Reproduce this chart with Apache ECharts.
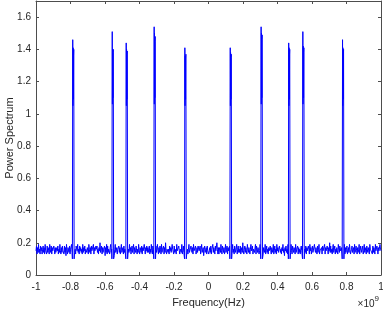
<!DOCTYPE html>
<html>
<head>
<meta charset="utf-8">
<script src="https://cdn.jsdelivr.net/npm/echarts@6/dist/echarts.min.js"></script>
<style>
html, body { margin: 0; padding: 0; background: #fff; }
#chart { width: 383px; height: 310px; }
</style>
</head>
<body>
<div id="chart"></div>
<script>
// x axis in units of 1e9 Hz
const xTicks = { min: -1, max: 1, step: 0.2 };
const yTicks = { min: 0, max: 1.7, step: 0.2 };

// noise floor, evenly spaced from -1 to 1
const noiseFloor = [
    0.15,0.18,0.13,0.17,0.14,0.19,0.14,0.16,0.13,0.18,0.15,0.17,0.13,0.16,0.18,0.14,0.17,0.13,0.19,0.15,
    0.16,0.13,0.18,0.14,0.17,0.15,0.13,0.19,0.16,0.14,0.18,0.13,0.17,0.15,0.14,0.18,0.16,0.13,0.17,0.14,
    0.14,0.17,0.15,0.18,0.13,0.16,0.14,0.19,0.15,0.13,0.17,0.14,0.18,0.15,0.16,0.13,0.18,0.14,0.17,0.12,
    0.19,0.15,0.13,0.17,0.16,0.14,0.18,0.13,0.16,0.15,0.19,0.14,0.13,0.17,0.15,0.18,0.14,0.16,0.13,0.18,
    0.17,0.15,0.19,0.14,0.16,0.13,0.18,0.15,0.17,0.14,0.16,0.13,0.19,0.14,0.17,0.15,0.18,0.13,0.16,0.15,
    0.14,0.17,0.15,0.13,0.19,0.16,0.14,0.17,0.13,0.18,0.15,0.14,0.16,0.19,0.13,0.17,0.15,0.14,0.18,0.16,
    0.18,0.14,0.16,0.13,0.17,0.15,0.20,0.14,0.15,0.18,0.13,0.17,0.14,0.16,0.15,0.18,0.12,0.17,0.14,0.19,
    0.13,0.18,0.14,0.16,0.15,0.13,0.17,0.19,0.14,0.16,0.13,0.18,0.15,0.17,0.12,0.16,0.19,0.14,0.15,0.17,
    0.13,0.16,0.15,0.18,0.14,0.17,0.13,0.16,0.19,0.14,0.15,0.17,0.13,0.18,0.14,0.16,0.15,0.17,0.13,0.18,
    0.18,0.13,0.16,0.14,0.19,0.15,0.17,0.13,0.16,0.18,0.14,0.15,0.19,0.13,0.17,0.16,0.14,0.18,0.15,0.13,
    0.16,0.14,0.19,0.15,0.13,0.17,0.16,0.14,0.18,0.13,0.17,0.15,0.14,0.19,0.16,0.13,0.17,0.15,0.18,0.14,
    0.17,0.14,0.15,0.18,0.13,0.16,0.14,0.19,0.15,0.13,0.18,0.16,0.14,0.17,0.13,0.15,0.18,0.14,0.16,0.19,
    0.15,0.13,0.17,0.14,0.18,0.16,0.13,0.19,0.14,0.16,0.15,0.18,0.13,0.17,0.14,0.20,0.15,0.13,0.16,0.17,
    0.14,0.16,0.13,0.18,0.15,0.17,0.14,0.13,0.19,0.16,0.15,0.13,0.18,0.14,0.16,0.17,0.13,0.19,0.15,0.14,
    0.14,0.18,0.15,0.13,0.16,0.17,0.14,0.19,0.13,0.15,0.18,0.14,0.16,0.13,0.17,0.15,0.19,0.14,0.16,0.13,
    0.16,0.19,0.14,0.15,0.13,0.18,0.16,0.14,0.17,0.13,0.19,0.15,0.14,0.16,0.18,0.13,0.15,0.17,0.14,0.18,
    0.17,0.15,0.14,0.18,0.13,0.16,0.19,0.14,0.15,0.17,0.12,0.16,0.18,0.14,0.15,0.17,0.13,0.18,0.15,0.16,
    0.13,0.15,0.17,0.14,0.18,0.13,0.16,0.15,0.19,0.14,0.17,0.16,0.13,0.18,0.15,0.14,0.20,0.16,0.13,0.17,
    0.13,0.17,0.16,0.14,0.19,0.15,0.13,0.18,0.16,0.14,0.17,0.13,0.15,0.19,0.14,0.16,0.18,0.13,0.17,0.15,
    0.15,0.18,0.14,0.16,0.13,0.17,0.15,0.19,0.14,0.16,0.13,0.18,0.17,0.14,0.15,0.19,0.13,0.16,0.18,0.14,
    0.16,0.14,0.18,0.13,0.15,0.17,0.14,0.20,0.15,0.13,0.16,0.18,0.14,0.17,0.15,0.13,0.19,0.16,0.14,0.17,
    0.17,0.13,0.16,0.19,0.15,0.14,0.18,0.13,0.16,0.17,0.14,0.15,0.19,0.13,0.18,0.16,0.14,0.17,0.15,0.13,
    0.15,0.19,0.13,0.16,0.14,0.18,0.15,0.13,0.17,0.16,0.14,0.19,0.13,0.15,0.18,0.14,0.16,0.13,0.17,0.15,
    0.14,0.18,0.15,0.13,0.17,0.16,0.14,0.19,0.13,0.15,0.18,0.14,0.16,0.13,0.19,0.15,0.17,0.14,0.16,0.18,
    0.18,0.14,0.16,0.13,0.17,0.15,0.19,0.14,0.16,0.12,0.17,0.15,0.18,0.14,0.16,0.13,0.19,0.15,0.14,0.17,
    0.16,0.14,0.19,0.15,0.13,0.18,0.16,0.14,0.17,0.15,0.13,0.19,0.14,0.16,0.15,0.18,0.13,0.17,0.14,0.16,
    0.13,0.16,0.18,0.15,0.14,0.17,0.13,0.19,0.15,0.16,0.14,0.18,0.13,0.17,0.15,0.14,0.18,0.16,0.13,0.19,
    0.15,0.17,0.13,0.16,0.18,0.14,0.15,0.13,0.19,0.16,0.14,0.17,0.15,0.13,0.18,0.14,0.16,0.19,0.13,0.15,
    0.16,0.14,0.17,0.13,0.18,0.15,0.16,0.14,0.19,0.13,0.17,0.15,0.14,0.18,0.16,0.13,0.17,0.15,0.20,0.14,
    0.18,0.14,0.16,0.13,0.17,0.19,0.14,0.15,0.18,0.13,0.16,0.14,0.17,0.15,0.13,0.19,0.16,0.14,0.18,0.15,
    0.15,0.17,0.13,0.18,0.14,0.16,0.15,0.19,0.13,0.17,0.14,0.16,0.18,0.13,0.15,0.17,0.14,0.19,0.16,0.13,
    0.13,0.16,0.18,0.14,0.15,0.17,0.13,0.19,0.14,0.16,0.18,0.15,0.13,0.17,0.14,0.16,0.19,0.13,0.15,0.18,
    0.17,0.14,0.16,0.18,0.13,0.15,0.19,0.14,0.17,0.15,0.13,0.18,0.16,0.14,0.17,0.15,0.13,0.19,0.16,0.15,
    0.16,0.15,0.13,0.18,0.14,0.17,0.16,0.13,0.19,0.15,0.14,0.18,0.16,0.13,0.17,0.15,0.14,0.19,0.16,0.15
];

// narrow peaks: centre frequencies and the levels across each pulse
const peakCenters = [-0.784, -0.555, -0.474, -0.312, -0.134, 0.129, 0.308, 0.468, 0.550, 0.780];
const peakOffsets = [-0.005, -0.003, -0.002, -0.001, 0.001, 0.002, 0.003, 0.005];
const peakLevels = [
    [0.10, 1.46, 1.05, 1.41, 1.09, 1.36, 1.40, 0.10],
    [0.10, 1.51, 1.06, 1.40, 1.10, 1.38, 1.40, 0.10],
    [0.10, 1.44, 1.05, 1.40, 1.09, 1.37, 1.39, 0.10],
    [0.10, 1.54, 1.06, 1.50, 1.10, 1.45, 1.48, 0.10],
    [0.10, 1.41, 1.05, 1.36, 1.09, 1.34, 1.37, 0.10],
    [0.10, 1.41, 1.05, 1.38, 1.09, 1.35, 1.37, 0.10],
    [0.10, 1.54, 1.06, 1.50, 1.10, 1.46, 1.49, 0.10],
    [0.10, 1.44, 1.05, 1.41, 1.09, 1.37, 1.40, 0.10],
    [0.10, 1.51, 1.06, 1.42, 1.10, 1.38, 1.41, 0.10],
    [0.10, 1.46, 1.05, 1.41, 1.09, 1.37, 1.40, 0.10]
];

// build the spectrum points
const spectrum = [];
const step = (xTicks.max - xTicks.min) / (noiseFloor.length - 1);
noiseFloor.forEach(function(v, i) {
    const x = xTicks.min + i * step;
    if (peakCenters.some(c => Math.abs(x - c) < 0.006)) return;
    spectrum.push([x, v]);
});
peakCenters.forEach(function(c, k) {
    peakOffsets.forEach(function(o, j) {
        spectrum.push([c + o, peakLevels[k][j]]);
    });
});
spectrum.sort((a, b) => a[0] - b[0]);

const axisColor = '#4d4d4d';
const textColor = '#262626';
const fontFamily = '"Liberation Sans", Arial, sans-serif';

const chart = echarts.init(document.getElementById('chart'));

const boxAxis = {
    type: 'value',
    axisLine: { show: true, onZero: false, lineStyle: { color: axisColor, width: 1 } },
    axisTick: { show: true, inside: true, length: 3, lineStyle: { color: axisColor } },
    splitLine: { show: false }
};

chart.setOption({
    animation: false,
    grid: { left: 36, right: 2, top: 1, bottom: 35, containLabel: false, outerBoundsMode: 'none' },
    xAxis: [
        Object.assign({}, boxAxis, {
            position: 'bottom',
            min: xTicks.min, max: xTicks.max, interval: xTicks.step,
            name: 'Frequency(Hz)',
            nameLocation: 'middle',
            nameGap: 22,
            nameMoveOverlap: false,
            nameTextStyle: { color: textColor, fontSize: 11, fontFamily: fontFamily },
            axisLabel: { color: textColor, fontSize: 10, fontFamily: fontFamily, margin: 7 }
        }),
        Object.assign({}, boxAxis, {
            position: 'top',
            min: xTicks.min, max: xTicks.max, interval: xTicks.step,
            axisLabel: { show: false }
        })
    ],
    yAxis: [
        Object.assign({}, boxAxis, {
            position: 'left',
            min: yTicks.min, max: yTicks.max, interval: yTicks.step,
            name: 'Power Spectrum',
            nameLocation: 'middle',
            nameGap: 21,
            nameMoveOverlap: false,
            nameTextStyle: { color: textColor, fontSize: 11, fontFamily: fontFamily },
            axisLabel: { color: textColor, fontSize: 10, fontFamily: fontFamily, margin: 5, showMaxLabel: false }
        }),
        Object.assign({}, boxAxis, {
            position: 'right',
            min: yTicks.min, max: yTicks.max, interval: yTicks.step,
            axisLabel: { show: false }
        })
    ],
    graphic: [{
        type: 'text',
        right: 4,
        top: 295,
        style: {
            text: '{a|×10}{b|9}',
            rich: {
                a: { fontSize: 10, fill: textColor, fontFamily: fontFamily, padding: [4, 0, 0, 0] },
                b: { fontSize: 8, fill: textColor, fontFamily: fontFamily, verticalAlign: 'top' }
            }
        }
    }],
    series: [{
        type: 'line',
        xAxisIndex: 0,
        yAxisIndex: 0,
        data: spectrum,
        showSymbol: false,
        lineStyle: { color: '#0000ff', width: 1 },
        clip: true
    }]
});
</script>
</body>
</html>
